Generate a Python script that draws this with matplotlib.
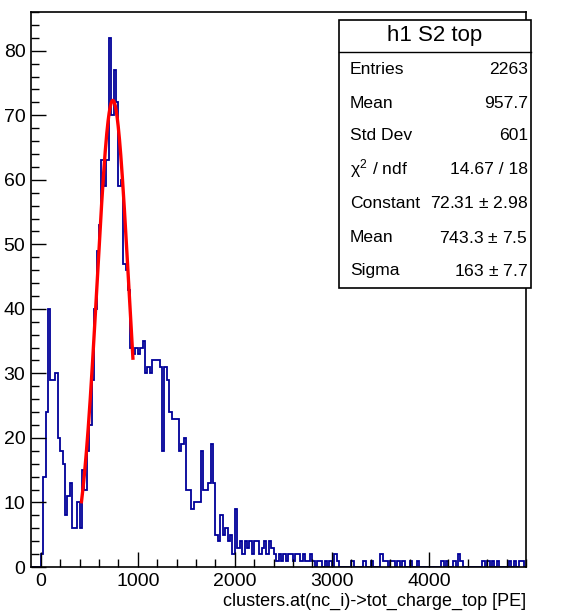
import matplotlib.pyplot as plt
import numpy as np
from matplotlib.ticker import MultipleLocator
from matplotlib.patches import Rectangle

plt.rcParams['font.family'] = ['Liberation Sans', 'DejaVu Sans']
plt.rcParams['mathtext.fontset'] = 'custom'
plt.rcParams['mathtext.rm'] = 'Liberation Sans'
plt.rcParams['mathtext.it'] = 'Liberation Sans'

# histogram h1 S2 top : 25 PE bins from -100 to 5000
bin_width = 25
x_min, x_max = -100, 5000

# bin contents from 0 to 3000 PE (one value per bin)
counts_low = [2, 14, 24, 40, 29, 29, 30, 20, 18, 16,     # 0 - 250
              8, 11, 13, 6, 6, 10, 6, 15, 12, 18,        # 250 - 500
              22, 29, 40, 49, 53, 63, 59, 63, 82, 70,    # 500 - 750
              77, 72, 59, 60, 47, 46, 43, 34, 33, 34,    # 750 - 1000
              33, 34, 35, 30, 31, 30, 32, 32, 32, 31,    # 1000 - 1250
              18, 31, 29, 24, 23, 23, 23, 18, 19, 20,    # 1250 - 1500
              12, 12, 9, 10, 10, 10, 18, 12, 12, 13,     # 1500 - 1750
              19, 13, 5, 4, 8, 5, 6, 4, 5, 2,            # 1750 - 2000
              9, 3, 4, 2, 4, 3, 4, 2, 4, 4,              # 2000 - 2250
              2, 3, 4, 2, 4, 3, 2, 1, 2, 1,              # 2250 - 2500
              2, 1, 2, 2, 1, 2, 2, 1, 2, 1,              # 2500 - 2750
              1, 2, 1, 0, 1, 1, 0, 1, 0, 1]              # 2750 - 3000

# sparse tail above 3000 PE (bin low edge, content)
tail_pos = [3025, 3050, 3200, 3325, 3400, 3500, 3525, 3550, 3600, 3625,
            3675, 3725, 3800, 3875, 4125, 4175, 4250, 4300, 4325, 4550,
            4600, 4650, 4700, 4825, 4875, 4925, 4950]
tail_counts = [2, 1, 1, 1, 1, 2, 1, 1, 1, 1,
               1, 1, 1, 1, 1, 1, 1, 2, 1, 1,
               1, 1, 1, 1, 1, 1, 1]

# gaussian fit result
fit_const, fit_mean, fit_sigma = 72.31, 743.3, 163.0
fit_lo, fit_hi = 420, 950

stat_labels = ['Entries', 'Mean', 'Std Dev', r'$\chi^2$ / ndf', 'Constant', 'Mean', 'Sigma']
stat_values = ['2263', '957.7', '601', '14.67 / 18', '72.31 $\\pm$ 2.98', '743.3 $\\pm$ 7.5', '163 $\\pm$ 7.7']

# build bins
edges = np.arange(x_min, x_max + bin_width, bin_width)
counts = np.zeros(len(edges) - 1)
i0 = (0 - x_min) // bin_width
counts[i0:i0 + len(counts_low)] = counts_low
for p, c in zip(tail_pos, tail_counts):
    counts[(p - x_min) // bin_width] = c

fig = plt.figure(figsize=(5.65, 6.13), dpi=100)
ax = fig.add_axes([31 / 565, 46 / 613, 495 / 565, 555 / 613])

ax.stairs(counts, edges, color='#000099', linewidth=1.3)
xf = np.linspace(fit_lo, fit_hi, 200)
ax.plot(xf, fit_const * np.exp(-0.5 * ((xf - fit_mean) / fit_sigma) ** 2), color='red', linewidth=2.4)

ax.set_xlim(x_min, x_max)
ax.set_ylim(0, 86)
ax.set_xticks([0, 1000, 2000, 3000, 4000])
ax.xaxis.set_minor_locator(MultipleLocator(200))
ax.yaxis.set_major_locator(MultipleLocator(10))
ax.yaxis.set_minor_locator(MultipleLocator(2))
ax.tick_params(which='both', direction='in', top=False, right=False, labelsize=14, width=1)
ax.tick_params(which='major', length=11, pad=4)
ax.tick_params(which='minor', length=5.5)
for s in ax.spines.values():
    s.set_linewidth(1.2)
ax.set_xlabel('clusters.at(nc_i)->tot_charge_top [PE]', loc='right', fontsize=13, labelpad=2)

# stats box
bx0, bx1 = 339 / 565, 531 / 565
by0, by1 = 1 - 288 / 613, 1 - 20 / 613
ysep = 1 - 52 / 613
fig.patches.append(Rectangle((bx0, by0), bx1 - bx0, by1 - by0, transform=fig.transFigure,
                             facecolor='white', edgecolor='black', linewidth=1.2, zorder=5))
fig.add_artist(plt.Line2D([bx0, bx1], [ysep, ysep], transform=fig.transFigure, color='black', linewidth=1, zorder=6))
fig.text((bx0 + bx1) / 2, 1 - 35 / 613, 'h1 S2 top', ha='center', va='center', fontsize=16, zorder=7)
row_y = [70, 103, 136, 169, 203, 238, 271]
for lab, val, yy in zip(stat_labels, stat_values, row_y):
    fig.text(350 / 565, 1 - yy / 613, lab, ha='left', va='center', fontsize=12.6, zorder=7)
    fig.text(528 / 565, 1 - yy / 613, val, ha='right', va='center', fontsize=12.6, zorder=7)

fig.savefig('out.png', dpi=100)
